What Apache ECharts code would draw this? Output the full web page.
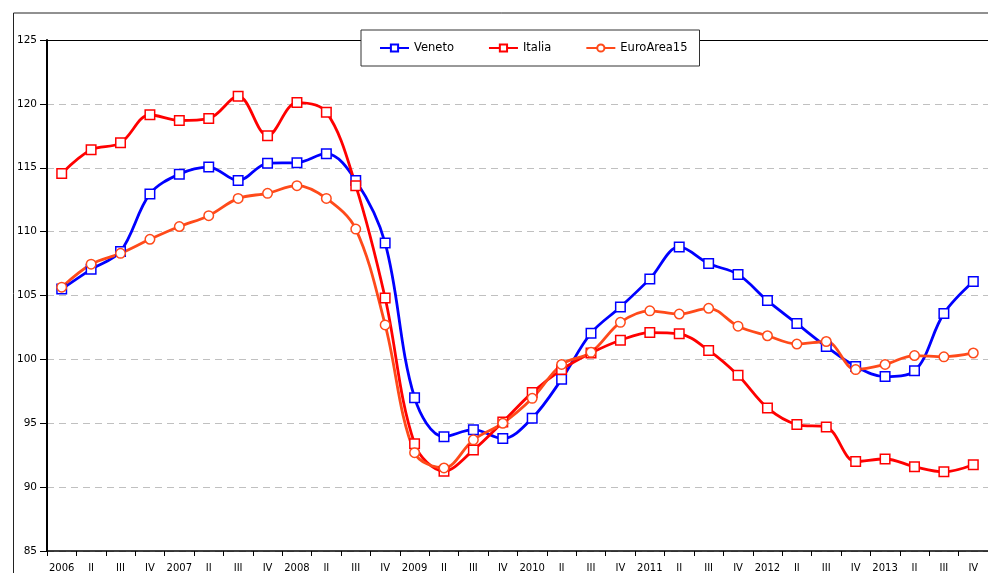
<!DOCTYPE html>
<html>
<head>
<meta charset="utf-8">
<script src="https://cdn.jsdelivr.net/npm/echarts@6/dist/echarts.min.js"></script>
<style>
html,body{margin:0;padding:0;background:#fff;}
#main{width:988px;height:573px;}
</style>
</head>
<body>
<div id="main"></div>
<script>
var categories = ['2006','II','III','IV','2007','II','III','IV','2008','II','III','IV','2009','II','III','IV','2010','II','III','IV','2011','II','III','IV','2012','II','III','IV','2013','II','III','IV'];
var veneto = [105.5,107.05,108.45,112.95,114.5,115.05,114.0,115.35,115.4,116.1,114.0,109.1,97.0,93.95,94.5,93.8,95.4,98.45,102.05,104.1,106.3,108.8,107.5,106.65,104.6,102.8,101.0,99.45,98.65,99.1,103.6,106.1];
var italia = [114.55,116.4,116.95,119.15,118.7,118.85,120.6,117.5,120.1,119.35,113.6,104.8,93.4,91.25,92.9,95.1,97.4,99.2,100.5,101.5,102.1,102.0,100.7,98.75,96.2,94.9,94.7,92.0,92.2,91.6,91.2,91.75];
var euroArea = [105.65,107.45,108.3,109.4,110.4,111.25,112.6,113.0,113.6,112.6,110.2,102.7,92.7,91.5,93.7,95.0,96.95,99.6,100.55,102.9,103.8,103.55,104.0,102.6,101.85,101.2,101.4,99.2,99.6,100.3,100.2,100.5];
var yTicks = [85,90,95,100,105,110,115,120,125];

var chart = echarts.init(document.getElementById('main'), null, {renderer:'canvas'});
var fontFam = 'DejaVu Sans';
function mk(name, data, color, symbol){
  return {
    name: name, type: 'line', data: data, smooth: 0.35,
    symbol: symbol, symbolSize: 9.5, showSymbol: true,
    lineStyle: {color: color, width: 2.8},
    itemStyle: {color: '#fff', borderColor: color, borderWidth: 1.5},
    emphasis: {disabled: true},
    z: 3
  };
}
chart.setOption({
  animation: false,
  backgroundColor: '#fff',
  graphic: [{
    type: 'rect', left: 11, top: 10.5,
    shape: {x: 0, y: 0, width: 1100, height: 700},
    style: {fill: 'none', stroke: '#222', lineWidth: 1},
    silent: true, z: -1
  }, {
    type: 'line', silent: true, z: 1,
    shape: {x1: 47, y1: 40.5, x2: 988, y2: 40.5},
    style: {stroke: '#000', lineWidth: 1}
  }],
  legend: {
    left: 361, top: 30,
    padding: [12, 12, 12, 18],
    itemWidth: 29, itemHeight: 9, itemGap: 34,
    backgroundColor: '#fff', borderColor: '#333', borderWidth: 1,
    textStyle: {fontFamily: fontFam, fontSize: 11.5, color: '#000'},
    data: ['Veneto','Italia','EuroArea15'],
    z: 10
  },
  grid: {left: 47, top: 40, width: 944, height: 511, show: false},
  xAxis: {
    type: 'category', data: categories, boundaryGap: true,
    axisLine: {lineStyle: {color: '#000', width: 1.5}},
    axisTick: {show: true, interval: 0, length: 5, lineStyle: {color: '#000'}},
    axisLabel: {interval: 0, margin: 12, fontFamily: fontFam, fontSize: 10, color: '#000'},
    splitLine: {show: false}
  },
  yAxis: {
    type: 'value', min: yTicks[0], max: yTicks[yTicks.length-1], interval: 5,
    axisLine: {show: true, lineStyle: {color: '#000', width: 2}},
    axisTick: {show: true, length: 7, lineStyle: {color: '#000'}},
    axisLabel: {margin: 10, fontFamily: fontFam, fontSize: 10.5, color: '#000'},
    splitLine: {show: true, lineStyle: {color: '#c0c0c0', type: [7,5], width: 1}}
  },
  series: [
    mk('Veneto', veneto, '#0000ff', 'rect'),
    mk('Italia', italia, '#ff0000', 'rect'),
    mk('EuroArea15', euroArea, '#ff4a1a', 'circle')
  ]
});
</script>
</body>
</html>
